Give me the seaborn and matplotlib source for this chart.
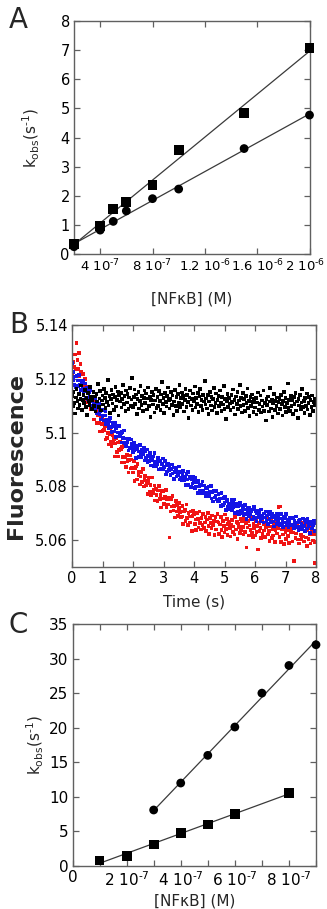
import numpy as np
import matplotlib
matplotlib.use("Agg")
import matplotlib.pyplot as plt
import matplotlib.transforms as mtrans
import seaborn as sns

# ---------------- data ----------------
# Panel A
conc_A = [2e-7, 4e-7, 5e-7, 6e-7, 8e-7, 1e-6, 1.5e-6, 2e-6]
kobs_A_square = [0.35, 0.97, 1.55, 1.78, 2.36, 3.58, 4.84, 7.08]
kobs_A_circle = [0.25, 0.82, 1.12, 1.48, 1.90, 2.23, 3.62, 4.77]
A_xticks = [4e-7, 8e-7, 1.2e-6, 1.6e-6, 2e-6]
A_xticklabels = ['4 10$^{\u20107}$', '8 10$^{\u20107}$', '1.2 10$^{\u20106}$',
                 '1.6 10$^{\u20106}$', '2 10$^{\u20106}$']
A_yticks = [0, 1, 2, 3, 4, 5, 6, 7, 8]

# Panel B (time base: 0.025 s sampling)
n_samples = 320
sample_dt = 0.025
black_F = [
 5.1137, 5.1098, 5.1152, 5.1109, 5.1071, 5.1130, 5.1161, 5.1118, 5.1089, 5.1144, 5.1102, 5.1126, 5.1175, 5.1083, 5.1120, 5.1140,
 5.1111, 5.1158, 5.1094, 5.1129, 5.1066, 5.1147, 5.1117, 5.1103, 5.1169, 5.1131, 5.1087, 5.1122, 5.1150, 5.1099, 5.1134, 5.1078,
 5.1143, 5.1115, 5.1181, 5.1096, 5.1127, 5.1154, 5.1082, 5.1119, 5.1138, 5.1104, 5.1163, 5.1128, 5.1091, 5.1146, 5.1113, 5.1195,
 5.1101, 5.1136, 5.1072, 5.1124, 5.1159, 5.1108, 5.1141, 5.1085, 5.1132, 5.1170, 5.1097, 5.1121, 5.1153, 5.1064, 5.1139, 5.1116,
 5.1148, 5.1093, 5.1126, 5.1178, 5.1105, 5.1135, 5.1079, 5.1157, 5.1112, 5.1144, 5.1088, 5.1130, 5.1166, 5.1100, 5.1123, 5.1203,
 5.1095, 5.1133, 5.1160, 5.1107, 5.1141, 5.1069, 5.1125, 5.1152, 5.1090, 5.1118, 5.1174, 5.1102, 5.1137, 5.1081, 5.1129, 5.1156,
 5.1110, 5.1145, 5.1086, 5.1127, 5.1167, 5.1098, 5.1134, 5.1058, 5.1121, 5.1150, 5.1104, 5.1139, 5.1075, 5.1119, 5.1163, 5.1092,
 5.1131, 5.1100, 5.1155, 5.1117, 5.1084, 5.1142, 5.1188, 5.1106, 5.1128, 5.1073, 5.1147, 5.1114, 5.1097, 5.1136, 5.1168, 5.1120,
 5.1089, 5.1126, 5.1151, 5.1103, 5.1138, 5.1065, 5.1116, 5.1159, 5.1099, 5.1132, 5.1080, 5.1143, 5.1111, 5.1176, 5.1094, 5.1128,
 5.1149, 5.1107, 5.1135, 5.1078, 5.1122, 5.1161, 5.1096, 5.1140, 5.1113, 5.1054, 5.1130, 5.1157, 5.1101, 5.1124, 5.1085, 5.1145,
 5.1118, 5.1171, 5.1093, 5.1129, 5.1106, 5.1148, 5.1076, 5.1134, 5.1162, 5.1098, 5.1121, 5.1083, 5.1139, 5.1115, 5.1192, 5.1104,
 5.1127, 5.1090, 5.1140, 5.1069, 5.1115, 5.1152, 5.1101, 5.1133, 5.1082, 5.1124, 5.1166, 5.1094, 5.1109, 5.1145, 5.1073, 5.1120,
 5.1136, 5.1098, 5.1157, 5.1112, 5.1079, 5.1131, 5.1104, 5.1173, 5.1088, 5.1125, 5.1050, 5.1117, 5.1143, 5.1096, 5.1129, 5.1108,
 5.1085, 5.1139, 5.1113, 5.1160, 5.1093, 5.1122, 5.1067, 5.1134, 5.1105, 5.1150, 5.1087, 5.1119, 5.1178, 5.1100, 5.1128, 5.1074,
 5.1146, 5.1103, 5.1124, 5.1081, 5.1137, 5.1110, 5.1164, 5.1092, 5.1118, 5.1061, 5.1132, 5.1099, 5.1141, 5.1114, 5.1077, 5.1126,
 5.1093, 5.1128, 5.1067, 5.1112, 5.1149, 5.1085, 5.1106, 5.1138, 5.1074, 5.1119, 5.1097, 5.1156, 5.1081, 5.1110, 5.1045, 5.1125,
 5.1102, 5.1134, 5.1078, 5.1115, 5.1166, 5.1090, 5.1121, 5.1059, 5.1108, 5.1143, 5.1084, 5.1117, 5.1099, 5.1130, 5.1071, 5.1113,
 5.1124, 5.1087, 5.1140, 5.1105, 5.1063, 5.1118, 5.1151, 5.1096, 5.1129, 5.1076, 5.1110, 5.1182, 5.1091, 5.1122, 5.1080, 5.1136,
 5.1098, 5.1120, 5.1069, 5.1133, 5.1107, 5.1147, 5.1082, 5.1115, 5.1055, 5.1126, 5.1101, 5.1139, 5.1088, 5.1112, 5.1161, 5.1094,
 5.1117, 5.1073, 5.1128, 5.1100, 5.1145, 5.1086, 5.1109, 5.1131, 5.1066, 5.1121, 5.1095, 5.1138, 5.1079, 5.1114, 5.1103, 5.1127,
]
blue_F = [
 5.1258, 5.1195, 5.1225, 5.1177, 5.1208, 5.1167, 5.1210, 5.1194, 5.1172, 5.1214, 5.1176, 5.1193, 5.1158, 5.1183, 5.1161, 5.1191,
 5.1155, 5.1183, 5.1130, 5.1158, 5.1165, 5.1126, 5.1150, 5.1133, 5.1158, 5.1116, 5.1128, 5.1100, 5.1131, 5.1106, 5.1127, 5.1089,
 5.1107, 5.1071, 5.1095, 5.1108, 5.1070, 5.1080, 5.1048, 5.1085, 5.1062, 5.1082, 5.1045, 5.1064, 5.1081, 5.1032, 5.1047, 5.1033,
 5.1017, 5.1042, 5.1055, 5.1021, 5.1001, 5.1036, 5.1022, 5.1004, 5.1035, 5.0983, 5.1015, 5.1022, 5.1000, 5.0985, 5.1024, 5.0987,
 5.0999, 5.0963, 5.1001, 5.0979, 5.1008, 5.0961, 5.0978, 5.0950, 5.0978, 5.0964, 5.0933, 5.0977, 5.0944, 5.0974, 5.0943, 5.0958,
 5.0927, 5.0960, 5.0933, 5.0947, 5.0905, 5.0939, 5.0949, 5.0910, 5.0930, 5.0954, 5.0917, 5.0908, 5.0936, 5.0920, 5.0943, 5.0896,
 5.0931, 5.0906, 5.0937, 5.0891, 5.0912, 5.0894, 5.0925, 5.0877, 5.0910, 5.0897, 5.0911, 5.0875, 5.0923, 5.0883, 5.0892, 5.0875,
 5.0882, 5.0906, 5.0862, 5.0892, 5.0896, 5.0864, 5.0882, 5.0904, 5.0865, 5.0873, 5.0895, 5.0844, 5.0880, 5.0855, 5.0884, 5.0861,
 5.0874, 5.0841, 5.0865, 5.0881, 5.0848, 5.0870, 5.0828, 5.0854, 5.0869, 5.0836, 5.0855, 5.0842, 5.0874, 5.0825, 5.0854, 5.0832,
 5.0823, 5.0844, 5.0856, 5.0823, 5.0835, 5.0806, 5.0845, 5.0826, 5.0853, 5.0805, 5.0829, 5.0834, 5.0798, 5.0827, 5.0810, 5.0835,
 5.0816, 5.0793, 5.0832, 5.0799, 5.0817, 5.0776, 5.0820, 5.0800, 5.0783, 5.0806, 5.0773, 5.0818, 5.0785, 5.0803, 5.0776, 5.0792,
 5.0762, 5.0793, 5.0776, 5.0799, 5.0764, 5.0780, 5.0801, 5.0755, 5.0779, 5.0743, 5.0784, 5.0759, 5.0765, 5.0782, 5.0751, 5.0744,
 5.0772, 5.0744, 5.0755, 5.0728, 5.0774, 5.0755, 5.0731, 5.0756, 5.0739, 5.0760, 5.0713, 5.0744, 5.0751, 5.0724, 5.0735, 5.0714,
 5.0723, 5.0750, 5.0712, 5.0737, 5.0723, 5.0751, 5.0700, 5.0727, 5.0734, 5.0707, 5.0726, 5.0698, 5.0739, 5.0709, 5.0729, 5.0702,
 5.0722, 5.0691, 5.0714, 5.0730, 5.0697, 5.0679, 5.0719, 5.0705, 5.0689, 5.0721, 5.0696, 5.0708, 5.0677, 5.0714, 5.0688, 5.0723,
 5.0683, 5.0709, 5.0669, 5.0699, 5.0710, 5.0685, 5.0701, 5.0672, 5.0714, 5.0680, 5.0690, 5.0666, 5.0699, 5.0684, 5.0706, 5.0670,
 5.0691, 5.0660, 5.0696, 5.0678, 5.0706, 5.0665, 5.0685, 5.0697, 5.0669, 5.0651, 5.0690, 5.0678, 5.0661, 5.0697, 5.0670, 5.0685,
 5.0656, 5.0680, 5.0697, 5.0662, 5.0675, 5.0648, 5.0688, 5.0665, 5.0683, 5.0697, 5.0655, 5.0677, 5.0647, 5.0671, 5.0682, 5.0657,
 5.0680, 5.0658, 5.0684, 5.0646, 5.0672, 5.0661, 5.0688, 5.0649, 5.0665, 5.0638, 5.0671, 5.0677, 5.0651, 5.0660, 5.0642, 5.0680,
 5.0653, 5.0676, 5.0635, 5.0666, 5.0643, 5.0679, 5.0653, 5.0668, 5.0627, 5.0660, 5.0668, 5.0643, 5.0654, 5.0672, 5.0633, 5.0662,
]
red_F = [
 5.1210, 5.1195, 5.1263, 5.1243, 5.1290, 5.1235, 5.1334, 5.1270, 5.1236, 5.1295, 5.1208, 5.1255, 5.1224, 5.1188, 5.1218, 5.1174,
 5.1154, 5.1200, 5.1155, 5.1171, 5.1114, 5.1147, 5.1162, 5.1115, 5.1162, 5.1087, 5.1118, 5.1099, 5.1115, 5.1048, 5.1094, 5.1099,
 5.1086, 5.1036, 5.1064, 5.1085, 5.1035, 5.1004, 5.1058, 5.1033, 5.1007, 5.1049, 5.1010, 5.1024, 5.0974, 5.1037, 5.0980, 5.0998,
 5.0955, 5.0993, 5.1017, 5.0965, 5.0949, 5.0991, 5.0961, 5.0975, 5.0911, 5.0959, 5.0978, 5.0927, 5.0963, 5.0911, 5.0936, 5.0965,
 5.0940, 5.0889, 5.0946, 5.0908, 5.0953, 5.0889, 5.0909, 5.0873, 5.0917, 5.0895, 5.0852, 5.0897, 5.0915, 5.0866, 5.0900, 5.0868,
 5.0852, 5.0894, 5.0821, 5.0866, 5.0874, 5.0826, 5.0884, 5.0840, 5.0854, 5.0807, 5.0837, 5.0854, 5.0817, 5.0865, 5.0799, 5.0824,
 5.0839, 5.0803, 5.0813, 5.0771, 5.0821, 5.0833, 5.0779, 5.0805, 5.0766, 5.0833, 5.0774, 5.0787, 5.0803, 5.0747, 5.0789, 5.0769,
 5.0745, 5.0785, 5.0801, 5.0754, 5.0768, 5.0721, 5.0782, 5.0755, 5.0783, 5.0735, 5.0761, 5.0786, 5.0723, 5.0751, 5.0733, 5.0759,
 5.0610, 5.0706, 5.0753, 5.0725, 5.0764, 5.0710, 5.0726, 5.0684, 5.0746, 5.0706, 5.0731, 5.0689, 5.0719, 5.0738, 5.0704, 5.0685,
 5.0688, 5.0727, 5.0660, 5.0706, 5.0713, 5.0671, 5.0732, 5.0683, 5.0657, 5.0700, 5.0688, 5.0665, 5.0706, 5.0634, 5.0690, 5.0708,
 5.0695, 5.0661, 5.0677, 5.0638, 5.0700, 5.0678, 5.0647, 5.0707, 5.0664, 5.0639, 5.0683, 5.0657, 5.0698, 5.0645, 5.0666, 5.0687,
 5.0634, 5.0677, 5.0700, 5.0652, 5.0623, 5.0683, 5.0664, 5.0644, 5.0691, 5.0657, 5.0672, 5.0618, 5.0686, 5.0639, 5.0669, 5.0696,
 5.0665, 5.0623, 5.0658, 5.0686, 5.0637, 5.0611, 5.0672, 5.0653, 5.0628, 5.0695, 5.0642, 5.0679, 5.0619, 5.0660, 5.0668, 5.0646,
 5.0613, 5.0658, 5.0676, 5.0630, 5.0651, 5.0621, 5.0686, 5.0639, 5.0667, 5.0604, 5.0662, 5.0650, 5.0627, 5.0679, 5.0636, 5.0672,
 5.0650, 5.0621, 5.0679, 5.0630, 5.0664, 5.0572, 5.0647, 5.0672, 5.0617, 5.0654, 5.0638, 5.0683, 5.0626, 5.0612, 5.0661, 5.0644,
 5.0617, 5.0670, 5.0630, 5.0652, 5.0565, 5.0663, 5.0634, 5.0646, 5.0607, 5.0675, 5.0623, 5.0658, 5.0636, 5.0612, 5.0649, 5.0681,
 5.0657, 5.0621, 5.0635, 5.0596, 5.0651, 5.0674, 5.0608, 5.0640, 5.0617, 5.0663, 5.0592, 5.0637, 5.0654, 5.0624, 5.0646, 5.0722,
 5.0611, 5.0725, 5.0594, 5.0639, 5.0654, 5.0621, 5.0585, 5.0645, 5.0630, 5.0605, 5.0663, 5.0615, 5.0636, 5.0590, 5.0651, 5.0628,
 5.0641, 5.0595, 5.0628, 5.0522, 5.0654, 5.0609, 5.0624, 5.0660, 5.0602, 5.0637, 5.0587, 5.0648, 5.0618, 5.0604, 5.0663, 5.0613,
 5.0595, 5.0632, 5.0652, 5.0610, 5.0579, 5.0638, 5.0603, 5.0646, 5.0623, 5.0588, 5.0630, 5.0658, 5.0599, 5.0621, 5.0592, 5.0515,
]
B_xticks = [0, 1, 2, 3, 4, 5, 6, 7, 8]
B_yticks = [5.06, 5.08, 5.10, 5.12, 5.14]
B_yticklabels = ['5.06', '5.08', '5.1', '5.12', '5.14']

# Panel C
conc_C_square = [1e-7, 2e-7, 3e-7, 4e-7, 5e-7, 6e-7, 8e-7]
kobs_C_square = [0.8, 1.5, 3.1, 4.8, 6.0, 7.5, 10.6]
conc_C_circle = [3e-7, 4e-7, 5e-7, 6e-7, 7e-7, 8e-7, 9e-7]
kobs_C_circle = [8.1, 12.0, 16.0, 20.1, 25.0, 29.0, 32.0]
C_xticks = [0, 1e-7, 2e-7, 3e-7, 4e-7, 5e-7, 6e-7, 7e-7, 8e-7, 9e-7]
C_xticklabels = ['0', '', '2 10$^{\u20107}$', '', '4 10$^{\u20107}$', '',
                 '6 10$^{\u20107}$', '', '8 10$^{\u20107}$', '']
C_yticks = [0, 5, 10, 15, 20, 25, 30, 35]

# ---------------- style ----------------
sns.set_theme(style="ticks")
plt.rcParams['font.family'] = ['DejaVu Sans']
plt.rcParams['mathtext.fontset'] = 'dejavusans'

W, H = 327, 909
fig = plt.figure(figsize=(W / 100, H / 100), dpi=100)
fig.patch.set_facecolor('white')

spine_col = '#606060'


def rect(left, top, right, bottom):
    return [left / W, 1 - bottom / H, (right - left) / W, (bottom - top) / H]


def style_axes(ax, fs):
    for sp in ax.spines.values():
        sp.set_color(spine_col)
        sp.set_linewidth(1.0)
        sp.set_visible(True)
    ax.tick_params(direction='in', top=True, right=True, length=4, width=0.9,
                   color=spine_col, labelsize=fs, labelcolor='black', pad=3)
    ax.set_facecolor('white')


line_kw = dict(color='#3a3a3a', lw=0.9)
sq_kw = dict(s=50, edgecolor='none', clip_on=False, zorder=3, alpha=1)
ci_kw = dict(s=40, edgecolor='none', clip_on=False, zorder=3, alpha=1)
ylab_A = 'k$_{\\mathrm{obs}}$(s$^{\u20101}$)'
xlab_conc = '[NF\u03baB] (M)'

# ---------------- panel A ----------------
axA = fig.add_axes(rect(74, 21, 309.5, 254))
sns.regplot(x=conc_A, y=kobs_A_square, ax=axA, ci=None, marker='s', color='black',
            scatter_kws=sq_kw, line_kws=line_kw)
sns.regplot(x=conc_A, y=kobs_A_circle, ax=axA, ci=None, marker='o', color='black',
            scatter_kws=ci_kw, line_kws=line_kw)
axA.set_xlim(2e-7, 2e-6)
axA.set_ylim(0, 8)
axA.set_xticks(A_xticks)
axA.set_xticklabels(A_xticklabels)
axA.set_yticks(A_yticks)
style_axes(axA, 9.5)
axA.tick_params(axis='y', labelsize=10.5)
# keep the last (edge) tick label inside the figure
last_lab = axA.get_xticklabels()[-1]
last_lab.set_transform(last_lab.get_transform() +
                       mtrans.ScaledTranslation(-0.04, 0, fig.dpi_scale_trans))
axA.set_xlabel(xlab_conc, fontsize=11, labelpad=12)
axA.set_ylabel(ylab_A, fontsize=11)
axA.yaxis.set_label_coords(-0.135, 0.5)

# ---------------- panel B ----------------
time_s = np.arange(n_samples) * sample_dt
axB = fig.add_axes(rect(72, 325, 316, 567))
pt_kw = dict(marker='s', s=7, edgecolor='none', linewidth=0, alpha=1)
sns.scatterplot(x=time_s, y=red_F, ax=axB, color='#f01414', **pt_kw)
sns.scatterplot(x=time_s, y=blue_F, ax=axB, color='#1414e6', **pt_kw)
sns.scatterplot(x=time_s, y=black_F, ax=axB, color='black', **pt_kw)
axB.set_xlim(0, 8)
axB.set_ylim(5.05, 5.14)
axB.set_xticks(B_xticks)
axB.set_yticks(B_yticks)
axB.set_yticklabels(B_yticklabels)
style_axes(axB, 10.5)
axB.set_xlabel('Time (s)', fontsize=11, labelpad=6)
axB.set_ylabel('Fluorescence', fontsize=16, fontweight='bold')
axB.yaxis.set_label_coords(-0.19, 0.46)

# ---------------- panel C ----------------
axC = fig.add_axes(rect(72.5, 624, 316, 866))
sns.regplot(x=conc_C_circle, y=kobs_C_circle, ax=axC, ci=None, marker='o', color='black',
            scatter_kws=ci_kw, line_kws=line_kw)
sns.regplot(x=conc_C_square, y=kobs_C_square, ax=axC, ci=None, marker='s', color='black',
            scatter_kws=sq_kw, line_kws=line_kw)
axC.set_xlim(0, 9e-7)
axC.set_ylim(0, 35)
axC.set_xticks(C_xticks)
axC.set_xticklabels(C_xticklabels)
axC.set_yticks(C_yticks)
style_axes(axC, 11)
axC.set_xlabel(xlab_conc, fontsize=11, labelpad=3)
axC.set_ylabel(ylab_A, fontsize=11)
axC.yaxis.set_label_coords(-0.11, 0.5)

# ---------------- panel letters ----------------
for letter, top_px in [('A', 6), ('B', 311), ('C', 611)]:
    fig.text(9 / W, 1 - top_px / H, letter, fontsize=20, ha='left', va='top')

fig.savefig('out.png', dpi=100, facecolor='white')
